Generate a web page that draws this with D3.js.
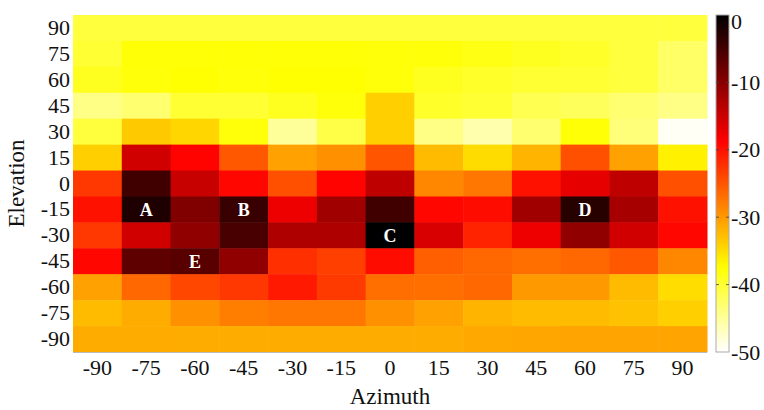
<!DOCTYPE html>
<html><head><meta charset="utf-8">
<script src="https://cdn.jsdelivr.net/npm/d3@7"></script>
<style>body{margin:0;background:#fff}text{font-family:"Liberation Serif","Times New Roman",serif}</style>
</head><body><svg id="c" width="764" height="410"></svg>
<script>
const azimuth = [-90,-75,-60,-45,-30,-15,0,15,30,45,60,75,90];
const elevation = [90,75,60,45,30,15,0,-15,-30,-45,-60,-75,-90];
const row90  = [-40.5,-40.5,-40.5,-40.5,-40.5,-40.5,-40.5,-40.5,-40.5,-40.5,-40.5,-40.5,-40.5];
const row75  = [-40,-37.8,-37.8,-37.8,-37.8,-37.8,-38,-38,-38.5,-39,-39.5,-40.5,-42.5];
const row60  = [-39,-38,-37.6,-38,-37.6,-37.6,-38,-39,-39.5,-40,-40,-40.5,-42.5];
const row45  = [-44,-43,-40,-40,-39,-38,-34,-39.5,-40,-41.5,-42,-43,-44];
const row30  = [-40.5,-33.5,-34.5,-38,-45,-41,-34,-44,-46,-43,-37.8,-43.5,-49.5];
const row15  = [-34,-15.3,-19,-25.2,-30.6,-29.4,-25,-32.5,-34.9,-32,-24.6,-30.6,-36.5];
const row0   = [-22.8,-4.7,-14.6,-19.2,-24.6,-19,-14,-28.7,-27.5,-20,-17,-14,-24.6];
const rowM15 = [-20,-2.3,-9.4,-4.1,-17.5,-11.8,-4.7,-19.3,-19.6,-11.8,-2.9,-12.3,-20];
const rowM30 = [-22.8,-15.3,-10.6,-5.3,-12.9,-12.9,0,-15.9,-21.3,-17.6,-10.6,-15.3,-19.3];
const rowM45 = [-19.3,-7,-6.5,-10.6,-22.2,-23.4,-19.6,-25.7,-26.3,-26.9,-26.3,-25.2,-28.7];
const rowM60 = [-30.6,-26.3,-24,-22.8,-20.6,-23,-26.9,-26.9,-26.3,-30,-30,-32.5,-35];
const rowM75 = [-32.5,-31.4,-29.4,-28,-27.5,-27.5,-29.4,-30.6,-32,-32.5,-32.5,-33,-34];
const rowM90 = [-31.4,-31.4,-31.4,-31.4,-31.4,-31.4,-31.4,-31.4,-31.2,-31,-30.8,-30.8,-30.8];
const values = [row90,row75,row60,row45,row30,row15,row0,rowM15,rowM30,rowM45,rowM60,rowM75,rowM90];
const markLabels = ["A","B","C","D","E"];
const markAz = [-75,-45,0,60,-60];
const markEl = [-15,-15,-30,-15,-45];
const cbTicks = [0,-10,-20,-30,-40,-50];

function hot(t){
  t = Math.max(0, Math.min(1, t));
  const r = Math.min(1, t/0.375);
  const g = Math.max(0, Math.min(1, (t-0.375)/0.375));
  const b = Math.max(0, Math.min(1, (t-0.75)/0.25));
  return d3.rgb(r*255, g*255, b*255).toString();
}
const tScale = d3.scaleLinear().domain([0,-50]).range([0,1]);
const color = v => hot(tScale(v));

const svg = d3.select("#c");
const x = d3.scaleBand().domain(azimuth).range([73,707]);
const y = d3.scaleBand().domain(elevation).range([15,352]);

const cells = [];
elevation.forEach((e,i)=>azimuth.forEach((a,j)=>cells.push({a,e,v:values[i][j]})));
svg.append("g").selectAll("rect").data(cells).join("rect")
  .attr("x",d=>x(d.a)).attr("y",d=>y(d.e))
  .attr("width",x.bandwidth()+0.5).attr("height",y.bandwidth()+0.5)
  .attr("fill",d=>color(d.v));

svg.append("line").attr("x1",73).attr("x2",707).attr("y1",352.5).attr("y2",352.5)
  .attr("stroke","#bbb").attr("stroke-width",1);

// labels in cells
svg.append("g").selectAll("text").data(markLabels).join("text")
  .attr("x",(d,i)=>x(markAz[i])+x.bandwidth()/2)
  .attr("y",(d,i)=>y(markEl[i])+y.bandwidth()/2)
  .attr("dy","0.35em").attr("text-anchor","middle")
  .attr("fill","#fff").attr("font-weight","bold").attr("font-size",18)
  .text(d=>d);

// axes
const xAxis = svg.append("g").attr("transform","translate(0,352)")
  .call(d3.axisBottom(x).tickSize(0).tickPadding(0).tickFormat(d=>String(d)));
xAxis.select(".domain").remove();
xAxis.selectAll("text").attr("font-size",22).attr("fill","#111")
  .attr("font-family","Liberation Serif").attr("dy",null).attr("y",23);

const yAxis = svg.append("g").attr("transform","translate(73,0)")
  .call(d3.axisLeft(y).tickSize(0).tickPadding(3).tickFormat(d=>String(d)));
yAxis.select(".domain").remove();
yAxis.selectAll("text").attr("font-size",22).attr("fill","#111")
  .attr("font-family","Liberation Serif");

svg.append("text").attr("x",390).attr("y",404).attr("text-anchor","middle")
  .attr("font-size",23).attr("fill","#111").text("Azimuth");
svg.append("text").attr("transform","translate(24,183.5) rotate(-90)")
  .attr("text-anchor","middle").attr("font-size",23).attr("fill","#111").text("Elevation");

// colorbar
const cbX = 716, cbW = 13;
const cy = d3.scaleLinear().domain([0,-50]).range([15,352]);
const defs = svg.append("defs");
const grad = defs.append("linearGradient").attr("id","cbg")
  .attr("x1",0).attr("y1",0).attr("x2",0).attr("y2",1);
d3.range(0,1.0001,0.02).forEach(t=>grad.append("stop").attr("offset",t).attr("stop-color",hot(t)));
svg.append("rect").attr("x",cbX).attr("y",cy(0)).attr("width",cbW).attr("height",cy(-50)-cy(0))
  .attr("fill","url(#cbg)").attr("stroke","#aaa").attr("stroke-width",1);
const cbAxis = svg.append("g").attr("transform",`translate(${cbX+cbW},0)`)
  .call(d3.axisRight(cy).tickValues(cbTicks).tickSize(0).tickPadding(2).tickFormat(d=>String(d)));
cbAxis.select(".domain").remove();
cbAxis.selectAll("text").attr("font-size",22).attr("fill","#111").attr("font-family","Liberation Serif");
cbAxis.selectAll(".tick").filter(d=>d===0).select("text").attr("dy","0.6em");
const inner = cbTicks.filter(d=>d!==0 && d!==-50);
svg.append("g").selectAll("line").data(inner).join("line")
  .attr("x1",cbX).attr("x2",cbX+3).attr("y1",d=>cy(d)).attr("y2",d=>cy(d))
  .attr("stroke","#444").attr("stroke-width",0.8);
svg.append("g").selectAll("line").data(inner).join("line")
  .attr("x1",cbX+cbW-3).attr("x2",cbX+cbW).attr("y1",d=>cy(d)).attr("y2",d=>cy(d))
  .attr("stroke","#444").attr("stroke-width",0.8);
</script></body></html>
